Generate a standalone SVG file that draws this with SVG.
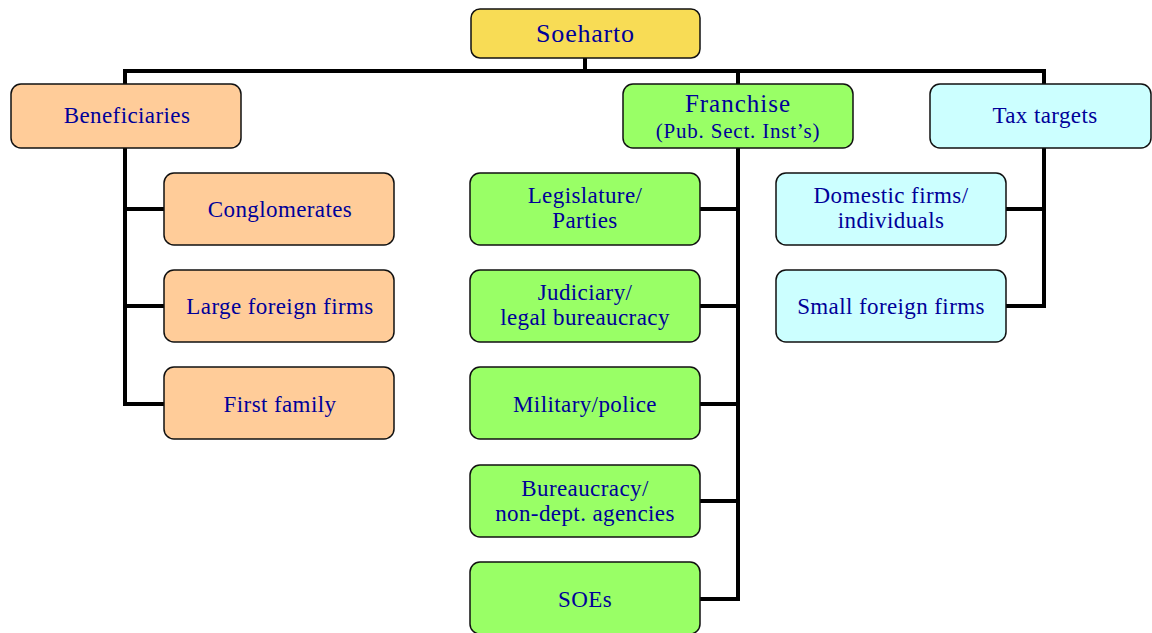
<svg xmlns="http://www.w3.org/2000/svg" width="1152" height="633" viewBox="0 0 1152 633">
<style>
.box{stroke:#111;stroke-width:1.5}
.y{fill:#F8DC55}.o{fill:#FFCC99}.g{fill:#99FF66}.c{fill:#CCFFFF}
text{font-family:"Liberation Serif","Times New Roman",serif;font-size:23px;fill:#000099;text-anchor:middle;letter-spacing:0.4px}
.big{font-size:26px;letter-spacing:0.8px}
.fr{font-size:25px;letter-spacing:1px}
.sm{font-size:21px;letter-spacing:0.8px}
.conn{fill:none;stroke:#000;stroke-width:4;stroke-linejoin:miter}
</style>
<rect width="1152" height="633" fill="#fff"/>
<g id="connectors" class="conn">
<path d="M585,58V71M125,84V71H1044V84M738,71V84"/>
<path d="M125,148V404H164M125,209H164M125,306H164"/>
<path d="M738,148V599H700M700,209H738M700,306H738M700,404H738M700,501H738"/>
<path d="M1044,148V306H1006M1006,209H1044"/>
</g>
<g id="soeharto"><rect class="box y" x="471" y="9" width="229" height="49" rx="9"/><text class="big" x="585.5" y="42">Soeharto</text></g>
<g id="beneficiaries"><rect class="box o" x="11" y="84" width="230" height="64" rx="10"/><text x="127" y="123">Beneficiaries</text></g>
<g id="conglomerates"><rect class="box o" x="164" y="173" width="230" height="72" rx="10"/><text x="280" y="217">Conglomerates</text></g>
<g id="large-foreign"><rect class="box o" x="164" y="270" width="230" height="72" rx="10"/><text x="280" y="314">Large foreign firms</text></g>
<g id="first-family"><rect class="box o" x="164" y="367" width="230" height="72" rx="10"/><text x="280" y="412">First family</text></g>
<g id="franchise"><rect class="box g" x="623" y="84" width="230" height="64" rx="10"/><text class="fr" x="738" y="112">Franchise</text><text class="sm" x="738" y="138">(Pub. Sect. Inst’s)</text></g>
<g id="legislature"><rect class="box g" x="470" y="173" width="230" height="72" rx="10"/><text x="585" y="203">Legislature/</text><text x="585" y="228">Parties</text></g>
<g id="judiciary"><rect class="box g" x="470" y="270" width="230" height="72" rx="10"/><text x="585" y="300">Judiciary/</text><text x="585" y="325">legal bureaucracy</text></g>
<g id="military"><rect class="box g" x="470" y="367" width="230" height="72" rx="10"/><text x="585" y="412">Military/police</text></g>
<g id="bureaucracy"><rect class="box g" x="470" y="465" width="230" height="72" rx="10"/><text x="585" y="496">Bureaucracy/</text><text x="585" y="521">non-dept. agencies</text></g>
<g id="soes"><rect class="box g" x="470" y="562" width="230" height="72" rx="10"/><text x="585" y="607">SOEs</text></g>
<g id="tax-targets"><rect class="box c" x="930" y="84" width="221" height="64" rx="10"/><text x="1045" y="123">Tax targets</text></g>
<g id="domestic"><rect class="box c" x="776" y="173" width="230" height="72" rx="10"/><text x="891" y="203">Domestic firms/</text><text x="891" y="228">individuals</text></g>
<g id="small-foreign"><rect class="box c" x="776" y="270" width="230" height="72" rx="10"/><text x="891" y="314">Small foreign firms</text></g>
</svg>
